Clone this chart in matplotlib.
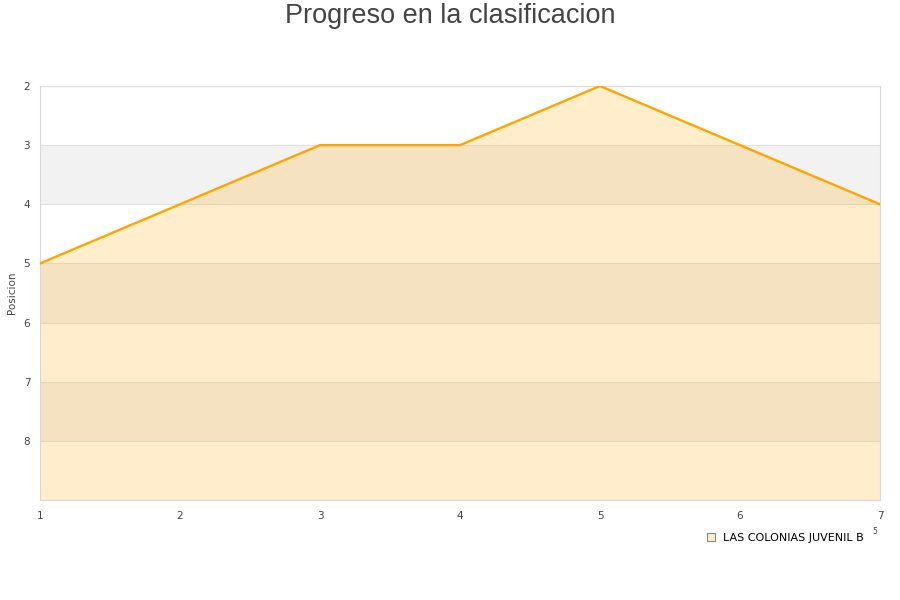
import matplotlib
matplotlib.use("Agg")
import matplotlib.pyplot as plt
from matplotlib.lines import Line2D

jornadas = [1, 2, 3, 4, 5, 6, 7]
posiciones = [5, 4, 3, 3, 2, 3, 4]
team = "LAS COLONIAS JUVENIL B"
yticks = [2, 3, 4, 5, 6, 7, 8]

fig = plt.figure(figsize=(9, 6), dpi=100)
ax = fig.add_axes([40/900, 1-500/600, 840/900, 414/600])

ymin, ymax = 2, 9
for b in [3, 5, 7]:
    ax.axhspan(b, b+1, color="#f2f2f2", zorder=0, lw=0)
for y in range(2, 10):
    ax.axhline(y, color="#e0e0e0", lw=0.8, zorder=1)

ax.fill_between(jornadas, posiciones, ymax, color="orange", alpha=0.2, lw=0, zorder=2)
ax.plot(jornadas, posiciones, color="orange", lw=1.7, zorder=3)

ax.set_xlim(1, 7)
ax.set_ylim(ymax, ymin)
ax.set_yticks(yticks)
ax.set_xticks(jornadas)
ax.tick_params(length=0, labelsize=7.5, colors="#444444", pad=8)
ax.tick_params(axis="y", pad=7)
for s in ax.spines.values():
    s.set_color("#d8d8d8")
    s.set_linewidth(0.8)
ax.set_ylabel("Posicion", fontsize=7.5, color="#444444")
ax.yaxis.set_label_coords(-0.027, 0.5)

fig.text(0.5, 1-16/600, "Progreso en la clasificacion", ha="center", va="center",
         fontsize=19.5, color="#444444", family="Liberation Sans")

handle = Line2D([], [], marker="s", ls="none", markersize=6,
                markerfacecolor="#ffedcc", markeredgecolor="#888888", markeredgewidth=0.8)
fig.legend([handle], [team], loc="center left", bbox_to_anchor=(700/900, 1-538/600),
           frameon=False, fontsize=8, handletextpad=0.6, borderpad=0, handlelength=1)
fig.text(875/900, 1-532/600, "5", fontsize=5.5, color="#444444", ha="center", va="center")

fig.savefig("out.png", dpi=100)
